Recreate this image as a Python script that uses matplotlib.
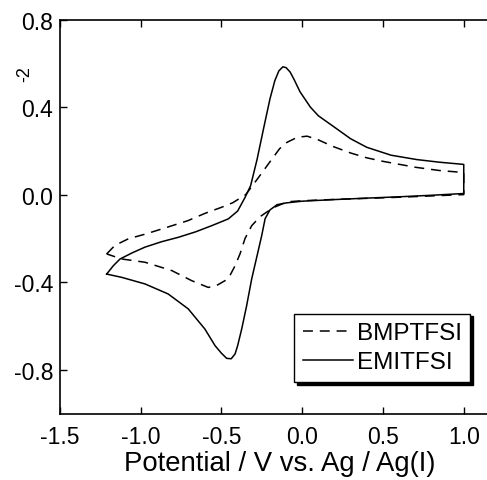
import matplotlib

matplotlib.use("Agg")
import matplotlib.pyplot as plt

plt.rcParams["font.family"] = ["Liberation Sans", "DejaVu Sans"]

# EMITFSI (solid): anodic sweep then return sweep
emi_x = [-1.211, -1.17, -1.128, -1.05, -0.974, -0.87, -0.767, -0.66, -0.561, -0.458, -0.40,
         -0.355, -0.32, -0.28, -0.24, -0.2, -0.17, -0.145, -0.12, -0.1, -0.075, -0.05,
         -0.014, 0.05, 0.1, 0.19, 0.3, 0.4, 0.55, 0.71, 0.85, 1.0,
         1.0, 0.8, 0.6, 0.4, 0.19, 0.0, -0.1, -0.156, -0.2, -0.23, -0.251, -0.28, -0.313,
         -0.345, -0.375, -0.4, -0.416, -0.44, -0.468, -0.5, -0.54, -0.603, -0.706, -0.83,
         -0.974, -1.118, -1.211]
emi_y = [-0.363, -0.325, -0.294, -0.265, -0.24, -0.215, -0.195, -0.17, -0.142, -0.111, -0.075,
         -0.014, 0.04, 0.16, 0.30, 0.437, 0.52, 0.565, 0.584, 0.58, 0.56, 0.525,
         0.47, 0.40, 0.36, 0.313, 0.255, 0.216, 0.18, 0.16, 0.148, 0.138,
         0.005, -0.003, -0.01, -0.016, -0.023, -0.03, -0.038, -0.046, -0.07, -0.11, -0.187,
         -0.28, -0.385, -0.51, -0.614, -0.69, -0.728, -0.75, -0.748, -0.725, -0.69, -0.614,
         -0.522, -0.454, -0.408, -0.378, -0.363]

# BMPTFSI (dashed)
bmp_x = [-1.211, -1.16, -1.077, -0.97, -0.87, -0.708, -0.6, -0.5, -0.43, -0.35, -0.28, -0.2,
         -0.14, -0.094, -0.03, 0.03, 0.1, 0.19, 0.3, 0.4, 0.5, 0.7, 0.85, 1.0,
         1.0, 0.6, 0.2, 0.0, -0.094, -0.18, -0.26, -0.313, -0.354, -0.385, -0.416, -0.448,
         -0.478, -0.53, -0.582, -0.685, -0.808, -0.974, -1.118, -1.211]
bmp_y = [-0.271, -0.232, -0.202, -0.18, -0.157, -0.119, -0.085, -0.058, -0.037, 0.0, 0.069,
         0.15, 0.21, 0.239, 0.262, 0.267, 0.25, 0.22, 0.19, 0.168, 0.152, 0.125, 0.11, 0.101,
         0.0, -0.012, -0.022, -0.028, -0.033, -0.06, -0.1, -0.142, -0.2, -0.27, -0.325, -0.37,
         -0.393, -0.415, -0.424, -0.393, -0.347, -0.309, -0.294, -0.271]

x_ticks = [-1.5, -1.0, -0.5, 0.0, 0.5, 1.0]
y_ticks = [0.8, 0.4, 0.0, -0.4, -0.8]

W, H = 487, 481
fig = plt.figure(figsize=(W / 100, H / 100), dpi=100)
ax = fig.add_axes([60 / W, (H - 414.5) / H, 440 / W, 394 / H])

ax.plot(bmp_x, bmp_y, color="black", lw=1.1, dashes=(6.5, 4.5), label="BMPTFSI")
ax.plot(emi_x, emi_y, color="black", lw=1.1, label="EMITFSI")

ax.set_xlim(-1.5, -1.5 + 440 / 161.5)
ax.set_ylim(-1.0, 0.8)
ax.set_xticks(x_ticks)
ax.set_xticklabels([f"{v:.1f}" for v in x_ticks])
ax.set_yticks(y_ticks)
ax.set_yticklabels([f"{v:.1f}" for v in y_ticks])
ax.tick_params(direction="in", length=5, width=1, labelsize=16.5, top=True)
ax.tick_params(axis="x", pad=8)
ax.tick_params(axis="y", pad=5)
for s in ax.spines.values():
    s.set_linewidth(1.2)
ax.spines["right"].set_visible(False)

ax.set_xlabel("Potential / V vs. Ag / Ag(I)", fontsize=19.8, labelpad=2)
fig.text(25 / W, 1 - 74 / H, "-2", rotation=90, fontsize=13, ha="center", va="center")

leg = ax.legend(loc="lower left", bbox_to_anchor=(0.532, 0.08), borderaxespad=0,
                fontsize=17.5, handlelength=2.06, handletextpad=0.16, fancybox=False,
                edgecolor="black", framealpha=1, borderpad=0.35, labelspacing=0.3,
                shadow={"color": "black", "alpha": 1})
leg.get_frame().set_linewidth(1.0)

fig.savefig("out.png", dpi=100)
